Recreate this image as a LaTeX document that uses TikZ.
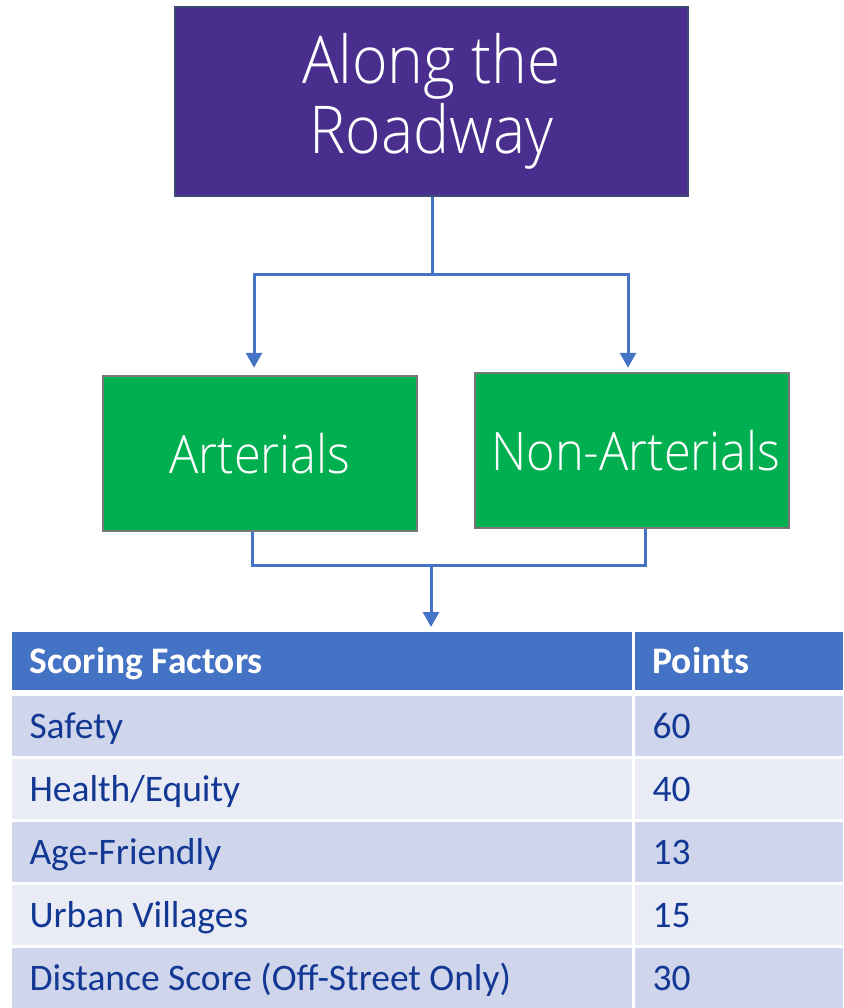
\documentclass[tikz,border=0pt]{standalone}
\usepackage{fontspec}
\setmainfont{Carlito}
\newfontfamily\lightfont{Open Sans Light}[FakeStretch=0.92]
\usetikzlibrary{arrows.meta}
\definecolor{purp}{RGB}{74,46,142}
\definecolor{purpedge}{RGB}{60,72,120}
\definecolor{grn}{RGB}{0,176,80}
\definecolor{grnedge}{RGB}{120,120,120}
\definecolor{lnblue}{RGB}{68,114,196}
\definecolor{hdrblue}{RGB}{68,114,196}
\definecolor{rowA}{RGB}{207,213,234}
\definecolor{rowB}{RGB}{233,235,245}
\definecolor{txtblue}{RGB}{18,56,148}
\tikzset{
  topbox/.style={draw=purpedge, line width=1.5pt, fill=purp, text=white,
    minimum width=513pt, minimum height=189pt, align=center, inner sep=0pt,
    font=\lightfont\fontsize{66}{70}\selectfont},
  greenbox/.style={draw=grnedge, line width=2.5pt, fill=grn, text=white,
    minimum width=314pt, minimum height=155pt, inner sep=0pt,
    font=\lightfont\fontsize{53}{60}\selectfont},
  conn/.style={draw=lnblue, line width=3pt},
  arrowconn/.style={conn, -{Triangle[width=16pt,length=15pt]}},
  cell/.style={draw=white, line width=3pt, anchor=north west, inner sep=0pt,
    inner xsep=19pt, align=flush left, text height=24pt, text depth=0pt,
    font=\fontsize{37.5}{40}\selectfont, text=txtblue},
  hdrcell/.style={cell, fill=hdrblue, text=white, font=\bfseries\fontsize{37.5}{40}\selectfont},
  leftcol/.style={minimum width=623pt, text width=585pt},
  rightcol/.style={minimum width=211pt, text width=173pt},
}
\begin{document}
\begin{tikzpicture}[x=1pt,y=-1pt]
\useasboundingbox (0,0) rectangle (843,1008);

\node[topbox] (top) at (431.5,101.5) {Along the\\Roadway};
\node[greenbox] (art) at (260,453.5) {Arterials};
\node[greenbox] (non) at (632,450.5) {\hspace*{8pt}Non-Arterials};

% table
\node[hdrcell, leftcol, minimum height=61pt] (hL) at (9,629) {Scoring Factors};
\node[hdrcell, rightcol, minimum height=61pt] (hR) at (632,629) {Points};

\node[cell, leftcol, fill=rowA, minimum height=63pt] (r1L) at (9,693) {Safety};
\node[cell, rightcol, fill=rowA, minimum height=63pt] (r1R) at (632,693) {60};
\node[cell, leftcol, fill=rowB, minimum height=63pt] (r2L) at (9,756) {Health/Equity};
\node[cell, rightcol, fill=rowB, minimum height=63pt] (r2R) at (632,756) {40};
\node[cell, leftcol, fill=rowA, minimum height=63pt] (r3L) at (9,819) {Age-Friendly};
\node[cell, rightcol, fill=rowA, minimum height=63pt] (r3R) at (632,819) {13};
\node[cell, leftcol, fill=rowB, minimum height=63pt] (r4L) at (9,882) {Urban Villages};
\node[cell, rightcol, fill=rowB, minimum height=63pt] (r4R) at (632,882) {15};
\node[cell, leftcol, fill=rowA, minimum height=63pt] (r5L) at (9,945) {Distance Score (Off-Street Only)};
\node[cell, rightcol, fill=rowA, minimum height=63pt] (r5R) at (632,945) {30};

% connectors
\coordinate (split) at (432,274);
\coordinate (merge) at (431,565);
\draw[conn] (top.south -| split) -- (split);
\draw[arrowconn, shorten >=7pt] (split) -| ([xshift=-6pt]art.north);
\draw[arrowconn, shorten >=4pt] (split) -| ([xshift=-4pt]non.north);
\draw[conn] ([xshift=-8pt]art.south) |- (merge) -| ([xshift=13pt]non.south);
\draw[arrowconn, shorten >=2pt] (merge) -- (merge |- hL.north);
\end{tikzpicture}
\end{document}
